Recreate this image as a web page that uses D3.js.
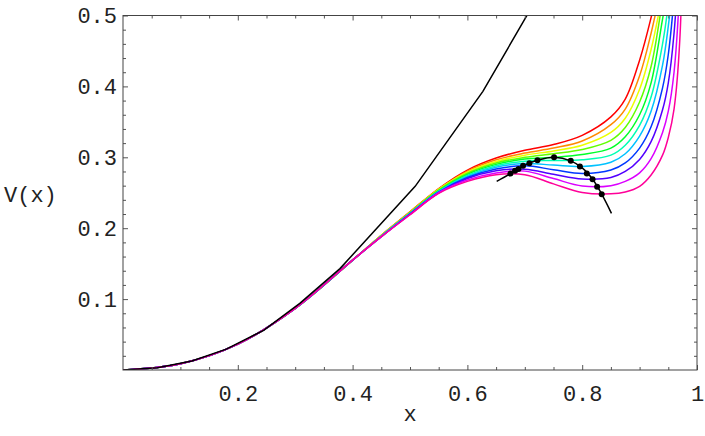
<!DOCTYPE html>
<html>
<head>
<meta charset="utf-8">
<script src="https://cdn.jsdelivr.net/npm/d3@7"></script>
<style>
  body { margin: 0; background: #fff; }
  svg text { font-family: "Liberation Mono", "Courier New", monospace; fill: #222; }
</style>
</head>
<body>
<svg id="chart" width="705" height="436"></svg>
<script>
// shared x grid for the coloured family
var xGrid = [0, 0.1, 0.2, 0.3, 0.4, 0.45, 0.5, 0.55, 0.6, 0.65, 0.7, 0.75, 0.8, 0.85, 0.875, 0.9, 0.92, 0.94, 0.95, 0.96, 0.97, 0.98];

// one array per curve, red (top) to pink (bottom)
var v0  = [0, 0.0088, 0.0365, 0.087, 0.155, 0.190, 0.223, 0.256, 0.282, 0.299, 0.310, 0.318, 0.331, 0.357, 0.382, 0.437, 0.497, 0.570, 0.610, 0.650, 0.700, 0.750];
var v1  = [0, 0.0088, 0.0365, 0.087, 0.155, 0.190, 0.223, 0.255, 0.2805, 0.2965, 0.306, 0.313, 0.323, 0.346, 0.368, 0.415, 0.475, 0.550, 0.590, 0.630, 0.680, 0.730];
var v2  = [0, 0.0088, 0.0365, 0.087, 0.155, 0.190, 0.222, 0.255, 0.279, 0.294, 0.303, 0.309, 0.317, 0.335, 0.355, 0.396, 0.452, 0.530, 0.570, 0.615, 0.665, 0.720];
var v3  = [0, 0.0088, 0.0365, 0.087, 0.155, 0.189, 0.222, 0.254, 0.2775, 0.292, 0.300, 0.305, 0.311, 0.324, 0.342, 0.378, 0.428, 0.520, 0.560, 0.605, 0.660, 0.720];
var v4  = [0, 0.0088, 0.0365, 0.087, 0.155, 0.189, 0.221, 0.253, 0.276, 0.290, 0.2975, 0.300, 0.304, 0.313, 0.329, 0.360, 0.405, 0.495, 0.540, 0.590, 0.650, 0.720];
var v5  = [0, 0.0088, 0.0365, 0.087, 0.155, 0.189, 0.221, 0.252, 0.2745, 0.288, 0.2945, 0.2955, 0.2965, 0.303, 0.317, 0.345, 0.385, 0.460, 0.515, 0.580, 0.650, 0.730];
var v6  = [0, 0.0088, 0.0365, 0.087, 0.155, 0.189, 0.221, 0.252, 0.273, 0.286, 0.2912, 0.289, 0.287, 0.293, 0.305, 0.330, 0.365, 0.430, 0.485, 0.560, 0.650, 0.750];
var v7  = [0, 0.0088, 0.0365, 0.087, 0.155, 0.188, 0.220, 0.251, 0.2715, 0.2835, 0.288, 0.2825, 0.2772, 0.282, 0.292, 0.313, 0.343, 0.398, 0.445, 0.525, 0.640, 0.760];
var v8  = [0, 0.0088, 0.0365, 0.087, 0.155, 0.188, 0.220, 0.250, 0.270, 0.281, 0.2832, 0.276, 0.2695, 0.2715, 0.280, 0.297, 0.322, 0.367, 0.405, 0.475, 0.600, 0.780];
var v9  = [0, 0.0088, 0.0365, 0.087, 0.155, 0.188, 0.219, 0.250, 0.268, 0.278, 0.2805, 0.270, 0.2595, 0.260, 0.266, 0.278, 0.298, 0.335, 0.365, 0.420, 0.540, 0.790];
var v10 = [0, 0.0088, 0.0365, 0.087, 0.155, 0.188, 0.219, 0.249, 0.266, 0.2755, 0.2755, 0.2625, 0.2505, 0.2485, 0.251, 0.259, 0.275, 0.303, 0.328, 0.368, 0.465, 0.800];
var family = [v0, v1, v2, v3, v4, v5, v6, v7, v8, v9, v10];
var hues = [0, 0.09, 0.18, 0.27, 0.36, 0.45, 0.54, 0.63, 0.72, 0.81, 0.9];

// the black polyline
var blackX = [0, 0.06, 0.12, 0.18, 0.245, 0.308, 0.378, 0.509, 0.627, 0.703, 0.76];
var blackY = [0, 0.0033, 0.0128, 0.0295, 0.056, 0.094, 0.143, 0.259, 0.393, 0.499, 0.58];

// black arc through the extrema, and its dots
var arcX = [0.651, 0.675, 0.700, 0.725, 0.751, 0.780, 0.800, 0.820, 0.834, 0.851];
var arcY = [0.266, 0.277, 0.289, 0.2965, 0.300, 0.295, 0.285, 0.267, 0.248, 0.221];
var dotX = [0.675, 0.683, 0.689, 0.697, 0.708, 0.722, 0.751, 0.780, 0.796, 0.808, 0.818, 0.826, 0.834];
var dotY = [0.277, 0.281, 0.2835, 0.288, 0.2915, 0.296, 0.300, 0.295, 0.287, 0.277, 0.269, 0.2585, 0.248];

var xMajor = [0.2, 0.4, 0.6, 0.8, 1];
var xLabels = ["0.2", "0.4", "0.6", "0.8", "1"];
var yMajor = [0.1, 0.2, 0.3, 0.4, 0.5];
var yLabels = ["0.1", "0.2", "0.3", "0.4", "0.5"];

var svg = d3.select("#chart");
var plotL = 123, plotR = 697, plotT = 15.5, plotB = 370;

var x = d3.scaleLinear().domain([0, 1]).range([plotL, plotR]);
var y = d3.scaleLinear().domain([0, 0.5]).range([plotB, plotT]);

svg.append("clipPath").attr("id", "plotclip")
    .append("rect")
    .attr("x", plotL).attr("y", plotT)
    .attr("width", plotR - plotL).attr("height", plotB - plotT);

var plot = svg.append("g").attr("clip-path", "url(#plotclip)");

var line = d3.line()
    .x(function(d) { return x(d[0]); })
    .y(function(d) { return y(d[1]); })
    .curve(d3.curveCatmullRom.alpha(0.5));

family.forEach(function(vals, k) {
    var pts = xGrid.map(function(xv, i) { return [xv, vals[i]]; });
    plot.append("path")
        .datum(pts)
        .attr("fill", "none")
        .attr("stroke", d3.hsl(hues[k] * 360, 1, 0.5))
        .attr("stroke-width", 1.5)
        .attr("d", line);
});

var blackLine = d3.line()
    .x(function(d) { return x(d[0]); })
    .y(function(d) { return y(d[1]); });

plot.append("path")
    .datum(blackX.map(function(xv, i) { return [xv, blackY[i]]; }))
    .attr("fill", "none")
    .attr("stroke", "#000")
    .attr("stroke-width", 1.5)
    .attr("d", blackLine);

var arcLine = d3.line()
    .x(function(d) { return x(d[0]); })
    .y(function(d) { return y(d[1]); })
    .curve(d3.curveCatmullRom);

plot.append("path")
    .datum(arcX.map(function(xv, i) { return [xv, arcY[i]]; }))
    .attr("fill", "none")
    .attr("stroke", "#000")
    .attr("stroke-width", 1.5)
    .attr("d", arcLine);

plot.selectAll(".dot")
    .data(dotX.map(function(xv, i) { return [xv, dotY[i]]; }))
    .enter().append("circle")
        .attr("class", "dot")
        .attr("cx", function(d) { return x(d[0]); })
        .attr("cy", function(d) { return y(d[1]); })
        .attr("r", 3)
        .attr("fill", "#000");

// axes: ticks point inward, labels on bottom and left only
var xMinor = d3.range(0.05, 1, 0.05).filter(function(v) { return Math.abs(v * 5 - Math.round(v * 5)) > 1e-6; });
var yMinor = d3.range(0.02, 0.5, 0.02).filter(function(v) { return Math.abs(v * 10 - Math.round(v * 10)) > 1e-6; });

function styleAxis(g) {
    g.select(".domain").remove();
    g.selectAll(".tick line").attr("stroke", "#555");
    g.selectAll("text").attr("font-size", "22px").attr("fill", "#222");
}

svg.append("g").attr("transform", "translate(0," + plotB + ")")
    .call(d3.axisBottom(x).tickValues(xMajor).tickSize(-5).tickPadding(15)
        .tickFormat(function(d, i) { return xLabels[i]; }))
    .call(styleAxis);
svg.append("g").attr("transform", "translate(0," + plotB + ")")
    .call(d3.axisBottom(x).tickValues(xMinor).tickSize(-3).tickFormat(""))
    .call(styleAxis);
svg.append("g").attr("transform", "translate(0," + plotT + ")")
    .call(d3.axisTop(x).tickValues(xMajor).tickSize(-5).tickFormat(""))
    .call(styleAxis);
svg.append("g").attr("transform", "translate(0," + plotT + ")")
    .call(d3.axisTop(x).tickValues(xMinor).tickSize(-3).tickFormat(""))
    .call(styleAxis);

svg.append("g").attr("transform", "translate(" + plotL + ",0)")
    .call(d3.axisLeft(y).tickValues(yMajor).tickSize(-5).tickPadding(6)
        .tickFormat(function(d, i) { return yLabels[i]; }))
    .call(styleAxis);
svg.append("g").attr("transform", "translate(" + plotL + ",0)")
    .call(d3.axisLeft(y).tickValues(yMinor).tickSize(-3).tickFormat(""))
    .call(styleAxis);
svg.append("g").attr("transform", "translate(" + plotR + ",0)")
    .call(d3.axisRight(y).tickValues(yMajor).tickSize(-5).tickFormat(""))
    .call(styleAxis);
svg.append("g").attr("transform", "translate(" + plotR + ",0)")
    .call(d3.axisRight(y).tickValues(yMinor).tickSize(-3).tickFormat(""))
    .call(styleAxis);

svg.append("rect")
    .attr("x", plotL).attr("y", plotT)
    .attr("width", plotR - plotL).attr("height", plotB - plotT)
    .attr("fill", "none")
    .attr("stroke", "#444")
    .attr("stroke-width", 1);

svg.append("text")
    .attr("x", (plotL + plotR) / 2).attr("y", 421)
    .attr("text-anchor", "middle")
    .attr("font-size", "22px")
    .text("x");

svg.append("text")
    .attr("x", 4).attr("y", 202)
    .attr("font-size", "22px")
    .text("V(x)");
</script>
</body>
</html>
